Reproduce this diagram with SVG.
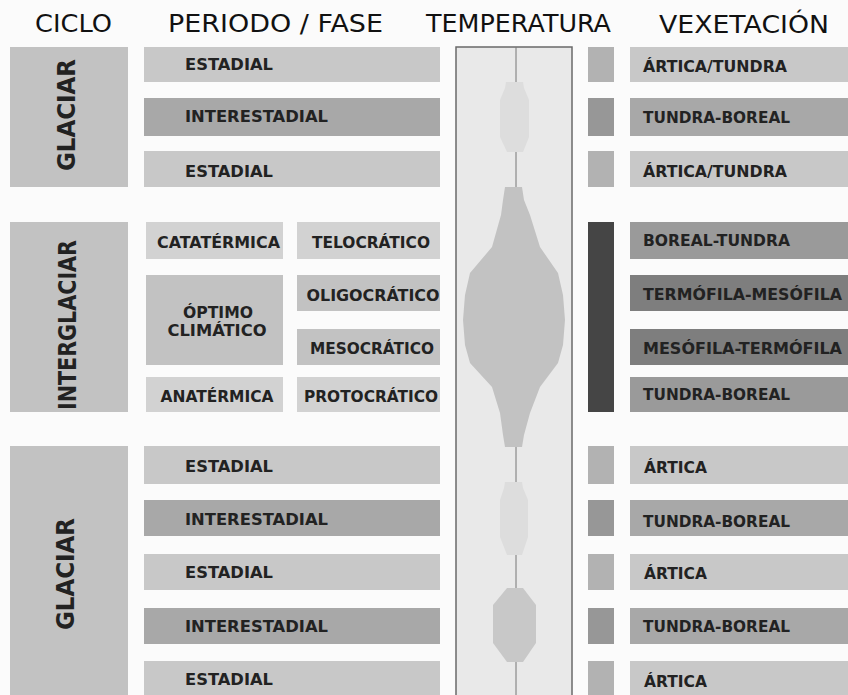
<svg xmlns="http://www.w3.org/2000/svg" width="848" height="695" viewBox="0 0 848 695">
<style>
.hd{font-family:"DejaVu Sans","Liberation Sans",sans-serif;font-size:24px;fill:#111;text-anchor:middle}
.tx{font-family:"DejaVu Sans","Liberation Sans",sans-serif;font-weight:bold;font-size:15.5px;fill:#222}
.c{text-anchor:middle}
.cy{font-family:"DejaVu Sans","Liberation Sans",sans-serif;font-weight:bold;font-size:25px;fill:#222;text-anchor:middle;dominant-baseline:central}
.l1{fill:#c8c8c8}
.l2{fill:#a8a8a8}
.cb{fill:#c2c2c2}
.pa{fill:#d2d2d2}
.pb{fill:#c2c2c2}
.s1{fill:#b2b2b2}
.s2{fill:#979797}
.v3{fill:#9a9a9a}
.v4{fill:#7e7e7e}
</style>
<rect width="848" height="695" fill="#fbfbfb"/>
<g id="headers">
<text class="hd" x="73.5" y="32" textLength="77" lengthAdjust="spacingAndGlyphs">CICLO</text>
<text class="hd" x="275.5" y="32" textLength="215" lengthAdjust="spacingAndGlyphs">PERIODO / FASE</text>
<text class="hd" x="518.5" y="32" textLength="185" lengthAdjust="spacingAndGlyphs">TEMPERATURA</text>
<text class="hd" x="744" y="33" textLength="170" lengthAdjust="spacingAndGlyphs">VEXETACIÓN</text>
</g>
<g id="ciclo-glaciar-1"><rect class="cb" x="10" y="47" width="118" height="140"/><text class="cy" transform="translate(66,115) rotate(-90)" textLength="112" lengthAdjust="spacingAndGlyphs">GLACIAR</text></g>
<g id="ciclo-interglaciar"><rect class="cb" x="10" y="222" width="118" height="190"/><text class="cy" transform="translate(67,325) rotate(-90)" textLength="170" lengthAdjust="spacingAndGlyphs">INTERGLACIAR</text></g>
<g id="ciclo-glaciar-2"><rect class="cb" x="10" y="446" width="118" height="260"/><text class="cy" transform="translate(65,574) rotate(-90)" textLength="112" lengthAdjust="spacingAndGlyphs">GLACIAR</text></g>

<g id="p1"><rect class="l1" x="144" y="47" width="296" height="35"/><text class="tx" x="185" y="70" textLength="88" lengthAdjust="spacingAndGlyphs">ESTADIAL</text></g>
<g id="p2"><rect class="l2" x="144" y="98" width="296" height="38"/><text class="tx" x="185" y="122" textLength="143" lengthAdjust="spacingAndGlyphs">INTERESTADIAL</text></g>
<g id="p3"><rect class="l1" x="144" y="151" width="296" height="36"/><text class="tx" x="185" y="177" textLength="88" lengthAdjust="spacingAndGlyphs">ESTADIAL</text></g>

<g id="catatermica"><rect class="pa" x="146" y="222" width="137" height="37"/><text class="tx c" x="218.5" y="248" textLength="123" lengthAdjust="spacingAndGlyphs">CATATÉRMICA</text></g>
<g id="telocratico"><rect class="pa" x="297" y="222" width="143" height="37"/><text class="tx c" x="371" y="248" textLength="118" lengthAdjust="spacingAndGlyphs">TELOCRÁTICO</text></g>
<g id="optimo"><rect class="pb" x="146" y="275" width="137" height="90"/><text class="tx c" x="218" y="318" textLength="70" lengthAdjust="spacingAndGlyphs">ÓPTIMO</text><text class="tx c" x="217" y="336" textLength="99" lengthAdjust="spacingAndGlyphs">CLIMÁTICO</text></g>
<g id="oligocratico"><rect class="pb" x="297" y="275" width="143" height="36"/><text class="tx c" x="373" y="301" textLength="133" lengthAdjust="spacingAndGlyphs">OLIGOCRÁTICO</text></g>
<g id="mesocratico"><rect class="pb" x="297" y="329" width="143" height="36"/><text class="tx c" x="372" y="354" textLength="124" lengthAdjust="spacingAndGlyphs">MESOCRÁTICO</text></g>
<g id="anatermica"><rect class="pa" x="146" y="377" width="137" height="35"/><text class="tx c" x="217" y="402" textLength="113" lengthAdjust="spacingAndGlyphs">ANATÉRMICA</text></g>
<g id="protocratico"><rect class="pa" x="297" y="377" width="143" height="35"/><text class="tx c" x="371" y="402" textLength="134" lengthAdjust="spacingAndGlyphs">PROTOCRÁTICO</text></g>

<g id="p4"><rect class="l1" x="144" y="446" width="296" height="38"/><text class="tx" x="185" y="472" textLength="88" lengthAdjust="spacingAndGlyphs">ESTADIAL</text></g>
<g id="p5"><rect class="l2" x="144" y="500" width="296" height="36"/><text class="tx" x="185" y="525" textLength="143" lengthAdjust="spacingAndGlyphs">INTERESTADIAL</text></g>
<g id="p6"><rect class="l1" x="144" y="554" width="296" height="36"/><text class="tx" x="185" y="578" textLength="88" lengthAdjust="spacingAndGlyphs">ESTADIAL</text></g>
<g id="p7"><rect class="l2" x="144" y="608" width="296" height="36"/><text class="tx" x="185" y="632" textLength="143" lengthAdjust="spacingAndGlyphs">INTERESTADIAL</text></g>
<g id="p8"><rect class="l1" x="144" y="661" width="296" height="40"/><text class="tx" x="185" y="685" textLength="88" lengthAdjust="spacingAndGlyphs">ESTADIAL</text></g>

<g id="temperatura">
<rect x="456" y="47" width="116" height="660" fill="#e9e9e9" stroke="#6a6a6a" stroke-width="1.5"/>
<line x1="516" y1="47" x2="516" y2="695" stroke="#777" stroke-width="1"/>
<polygon fill="#dddddd" points="506,82 523,82 524,88 529,100 529,137 523,152 507,152 500,137 500,100 505,88"/>
<polygon fill="#c2c2c2" points="505,187 522,187 524,200 530,215 540,247 558,273 563,295 565,320 563,345 558,363 540,387 530,413 524,435 522,447 505,447 503,435 500,413 492,387 470,363 465,345 463,320 465,295 470,273 492,247 501,215 503,200"/>
<polygon fill="#dddddd" points="505,482 522,482 523,488 528,500 528,537 522,555 507,555 500,537 500,500 504,488"/>
<polygon fill="#c8c8c8" points="507,588 523,588 536,605 536,643 523,662 507,662 493,643 493,605"/>
</g>

<g id="s1"><rect class="s1" x="588" y="47" width="26" height="35"/></g>
<g id="s2"><rect class="s2" x="588" y="98" width="26" height="38"/></g>
<g id="s3"><rect class="s1" x="588" y="151" width="26" height="36"/></g>
<g id="s-inter"><rect fill="#454545" x="588" y="222" width="26" height="190"/></g>
<g id="s4"><rect class="s1" x="588" y="446" width="26" height="38"/></g>
<g id="s5"><rect class="s2" x="588" y="500" width="26" height="36"/></g>
<g id="s6"><rect class="s1" x="588" y="554" width="26" height="36"/></g>
<g id="s7"><rect class="s2" x="588" y="608" width="26" height="36"/></g>
<g id="s8"><rect class="s1" x="588" y="661" width="26" height="40"/></g>

<g id="v1"><rect class="l1" x="630" y="47" width="218" height="35"/><text class="tx" x="643" y="72" textLength="144" lengthAdjust="spacingAndGlyphs">ÁRTICA/TUNDRA</text></g>
<g id="v2"><rect class="l2" x="630" y="98" width="218" height="38"/><text class="tx" x="643" y="123" textLength="147" lengthAdjust="spacingAndGlyphs">TUNDRA-BOREAL</text></g>
<g id="v3"><rect class="l1" x="630" y="151" width="218" height="36"/><text class="tx" x="643" y="177" textLength="144" lengthAdjust="spacingAndGlyphs">ÁRTICA/TUNDRA</text></g>
<g id="v4"><rect class="v3" x="630" y="222" width="218" height="37"/><text class="tx" x="643" y="246" textLength="147" lengthAdjust="spacingAndGlyphs">BOREAL-TUNDRA</text></g>
<g id="v5"><rect class="v4" x="630" y="275" width="218" height="36"/><text class="tx" x="643" y="300" textLength="199" lengthAdjust="spacingAndGlyphs">TERMÓFILA-MESÓFILA</text></g>
<g id="v6"><rect class="v4" x="630" y="329" width="218" height="36"/><text class="tx" x="643" y="354" textLength="199" lengthAdjust="spacingAndGlyphs">MESÓFILA-TERMÓFILA</text></g>
<g id="v7"><rect class="v3" x="630" y="377" width="218" height="35"/><text class="tx" x="643" y="400" textLength="147" lengthAdjust="spacingAndGlyphs">TUNDRA-BOREAL</text></g>
<g id="v8"><rect class="l1" x="630" y="446" width="218" height="38"/><text class="tx" x="644" y="473" textLength="63" lengthAdjust="spacingAndGlyphs">ÁRTICA</text></g>
<g id="v9"><rect class="l2" x="630" y="500" width="218" height="36"/><text class="tx" x="643" y="527" textLength="147" lengthAdjust="spacingAndGlyphs">TUNDRA-BOREAL</text></g>
<g id="v10"><rect class="l1" x="630" y="554" width="218" height="36"/><text class="tx" x="644" y="579" textLength="63" lengthAdjust="spacingAndGlyphs">ÁRTICA</text></g>
<g id="v11"><rect class="l2" x="630" y="608" width="218" height="36"/><text class="tx" x="643" y="632" textLength="147" lengthAdjust="spacingAndGlyphs">TUNDRA-BOREAL</text></g>
<g id="v12"><rect class="l1" x="630" y="661" width="218" height="40"/><text class="tx" x="644" y="687" textLength="63" lengthAdjust="spacingAndGlyphs">ÁRTICA</text></g>
<g id="connectors"/>
</svg>
